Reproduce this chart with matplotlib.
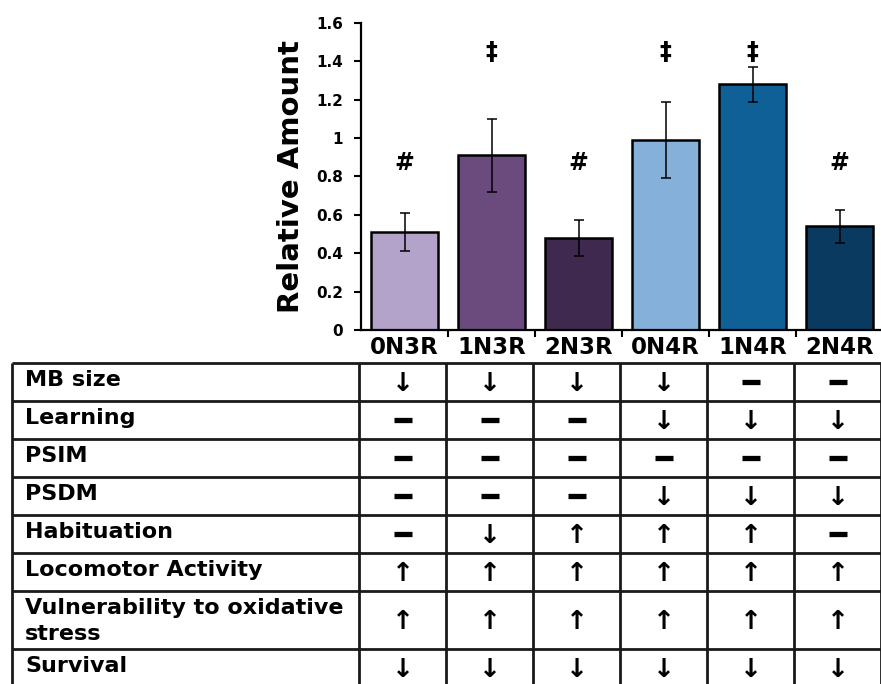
import matplotlib
matplotlib.use("Agg")
import matplotlib.pyplot as plt
import numpy as np

plt.rcParams['font.family'] = ['DejaVu Sans']

# ---- data ----
genotypes = ["0N3R", "1N3R", "2N3R", "0N4R", "1N4R", "2N4R"]
relative_amount = [0.51, 0.91, 0.48, 0.99, 1.28, 0.54]
sem = [0.10, 0.19, 0.095, 0.20, 0.09, 0.085]
significance = ["#", "\u2021", "#", "\u2021", "\u2021", "#"]
sig_level = [0.87, 1.45, 0.87, 1.45, 1.45, 0.87]
bar_colors = ["#b3a2c9", "#6b4a7d", "#40294f", "#85b0da", "#0e6096", "#0a3a5f"]
yticks = [0, 0.2, 0.4, 0.6, 0.8, 1, 1.2, 1.4, 1.6]
ytick_labels = ["0", "0.2", "0.4", "0.6", "0.8", "1", "1.2", "1.4", "1.6"]

phenotypes = ["MB size", "Learning", "PSIM", "PSDM", "Habituation",
              "Locomotor Activity", "Vulnerability to oxidative\nstress", "Survival"]
# -1 = decreased, 0 = unchanged, 1 = increased
effects = [
    [-1, -1, -1, -1, 0, 0],
    [0, 0, 0, -1, -1, -1],
    [0, 0, 0, 0, 0, 0],
    [0, 0, 0, -1, -1, -1],
    [0, -1, 1, 1, 1, 0],
    [1, 1, 1, 1, 1, 1],
    [1, 1, 1, 1, 1, 1],
    [-1, -1, -1, -1, -1, -1],
]

W, H = 881, 684
fig = plt.figure(figsize=(W / 100, H / 100), dpi=100)

# ---- bar chart ----
ax_left, ax_right, ax_top, ax_bottom = 361, 883, 23, 330
ax = fig.add_axes([ax_left / W, 1 - ax_bottom / H,
                   (ax_right - ax_left) / W, (ax_bottom - ax_top) / H])
x = np.arange(len(genotypes))
ax.bar(x, relative_amount, width=0.78, color=bar_colors, edgecolor="black",
       linewidth=1.8, zorder=2)
ax.errorbar(x, relative_amount, yerr=sem, fmt="none", ecolor="black",
            elinewidth=1.1, capsize=3.5, capthick=1.1, zorder=3)
for xi, s, lvl in zip(x, significance, sig_level):
    ax.text(xi, lvl, s, ha="center", va="center", fontsize=17,
            fontweight="bold", color="black")

ax.set_xlim(-0.5, len(genotypes) - 0.5)
ax.set_ylim(0, 1.6)
ax.set_yticks(yticks)
ax.set_yticklabels(ytick_labels, fontsize=11, fontweight="bold")
ax.set_xticks(x)
ax.set_xticklabels(genotypes, fontsize=16.5, fontweight="bold")
ax.set_xticks(x[:-1] + 0.5, minor=True)
ax.tick_params(axis="x", which="major", length=0, pad=4)
ax.tick_params(axis="x", which="minor", length=5, width=1.5, direction="out")
ax.tick_params(axis="y", length=5, width=1.5, direction="out", pad=8)
ax.set_ylabel("Relative Amount", fontsize=21, fontweight="bold", labelpad=8)
for side in ("top", "right"):
    ax.spines[side].set_visible(False)
for side in ("left", "bottom"):
    ax.spines[side].set_linewidth(1.6)
ax.patch.set_alpha(0)

# ---- phenotype table ----
tab = fig.add_axes([0, 0, 1, 1], zorder=-1)
tab.set_xlim(0, W)
tab.set_ylim(H, 0)
tab.axis("off")

table_top = 363
row_heights = [38, 38, 38, 38, 38, 38, 58, 38]
label_left, label_right = 12, 359
col_width = (ax_right - ax_left) / len(genotypes)
col_edges = [label_left, label_right] + [label_right + col_width * (i + 1)
                                         for i in range(len(genotypes))]
row_edges = np.concatenate([[table_top], table_top + np.cumsum(row_heights)])

line_kw = dict(color="#1a1a1a", linewidth=2.0, solid_capstyle="butt")
for ry in row_edges[:-1]:
    tab.plot([label_left, W + 5], [ry, ry], **line_kw)
for cx in col_edges:
    tab.plot([cx, cx], [table_top, H + 5], **line_kw)

for r, (name, row) in enumerate(zip(phenotypes, effects)):
    top = row_edges[r]
    center = (row_edges[r] + row_edges[r + 1]) / 2
    tab.text(25, top + 7, name, ha="left", va="top", fontsize=16,
             fontweight="bold", color="black", linespacing=1.4)
    for c, val in enumerate(row):
        cx = label_right + col_width * (c + 0.5)
        if val == 0:
            tab.plot([cx - 9, cx + 9], [center, center], color="black",
                     linewidth=3.8, solid_capstyle="butt")
        else:
            glyph = "\u2191" if val > 0 else "\u2193"
            tab.text(cx, center + 2, glyph, ha="center", va="center",
                     fontsize=19, fontweight="bold", color="black")

fig.savefig("out.png", dpi=100)
